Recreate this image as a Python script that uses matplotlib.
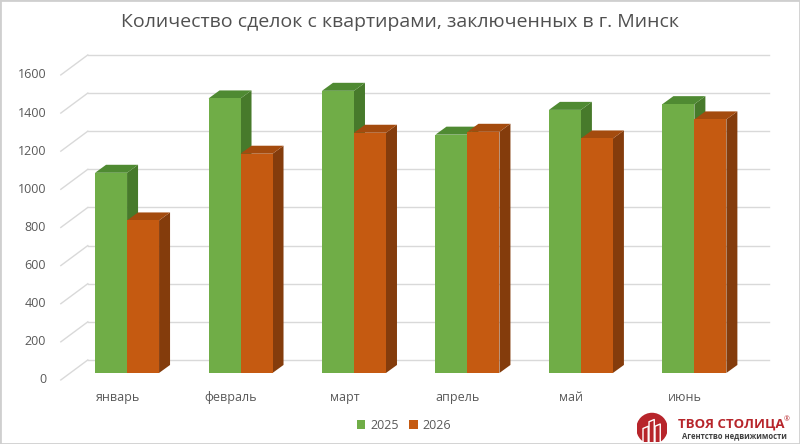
import matplotlib

matplotlib.use("Agg")
import matplotlib.pyplot as plt
from matplotlib.patches import Polygon, Rectangle, Circle
import numpy as np

plt.rcParams["font.family"] = ["Open Sans", "DejaVu Sans"]

months = ["январь", "февраль", "март", "апрель", "май", "июнь"]
deals_2025 = [1050, 1440, 1480, 1250, 1380, 1410]
deals_2026 = [800, 1150, 1260, 1265, 1230, 1330]
yticks = [0, 200, 400, 600, 800, 1000, 1200, 1400, 1600]

green = ("#70ad47", "#4f8a32", "#477a2b")   # front, top, side
orange = ("#c55a11", "#a44b0e", "#843c0c")
grid_col = "#d9d9d9"
text_col = "#595959"

fig = plt.figure(figsize=(8, 4.44), dpi=100)
ax = fig.add_axes([0.0879, 0.16, 0.851, 0.687])
ax.set_xlim(-0.5, 5.5)
ax.set_ylim(0, 1600)
ax.axis("off")

# pseudo-3d offsets expressed in data units (px / px-per-unit)
px_x = 113.5
px_y = 305 / 1600
bar_dx, bar_dy = 11 / px_x, 8 / px_y        # bar depth
wall_dx, wall_dy = 17.5 / px_x, 13 / px_y   # back wall behind bars
front_dx, front_dy = -9.5 / px_x, -7 / px_y # front edge of floor
w = 0.282

# back wall grid + floor side lines
for v in yticks:
    ax.plot([-0.5 + wall_dx, 5.5 + wall_dx], [v + wall_dy, v + wall_dy],
            color=grid_col, lw=1, zorder=1, clip_on=False)
    ax.plot([-0.5 + front_dx, -0.5 + wall_dx], [v + front_dy, v + wall_dy],
            color=grid_col, lw=1, zorder=1, clip_on=False)
    ax.text(-0.5 + front_dx - 0.13, v + front_dy, str(v), ha="right", va="center",
            fontsize=9, color=text_col)

x = np.arange(len(months))
z = 2
for i in x:
    for vals, cols, off in [(deals_2025, green, -w / 2), (deals_2026, orange, w / 2)]:
        h = vals[i]
        xl, xr = i + off - w / 2, i + off + w / 2
        side = Polygon([(xr, 0), (xr, h), (xr + bar_dx, h + bar_dy), (xr + bar_dx, bar_dy)],
                       closed=True, fc=cols[2], ec="none", zorder=z, clip_on=False)
        top = Polygon([(xl, h), (xr, h), (xr + bar_dx, h + bar_dy), (xl + bar_dx, h + bar_dy)],
                      closed=True, fc=cols[1], ec="none", zorder=z, clip_on=False)
        ax.add_patch(side)
        ax.add_patch(top)
        ax.bar(i + off, h, width=w, color=cols[0], zorder=z + 0.5, clip_on=False)
        z += 1

for i, m in enumerate(months):
    ax.text(i + front_dx, front_dy - 90, m, ha="center", va="center",
            fontsize=9, color=text_col)

fig.text(0.5, 1 - 22 / 444, "Количество сделок с квартирами, заключенных в г. Минск",
         ha="center", va="center", fontsize=14, color="#505050")

handles = [Rectangle((0, 0), 1, 1, fc=green[0]), Rectangle((0, 0), 1, 1, fc=orange[0])]
fig.legend(handles, ["2025", "2026"], loc="center", bbox_to_anchor=(0.505, 1 - 425 / 444),
           ncol=2, frameon=False, fontsize=9, labelcolor=text_col,
           handlelength=0.7, handleheight=0.7, handletextpad=0.4, columnspacing=0.8)

# logo
lax = fig.add_axes([637 / 800, 2 / 444, 30 / 800, 30 / 444])
lax.set_xlim(-1, 1)
lax.set_ylim(-1, 1)
lax.set_aspect("equal")
lax.axis("off")
lax.add_patch(Circle((0, -0.1), 1.05, fc="#b7252b", ec="none"))
for bx, bh in [(-0.6, -0.1), (-0.2, 0.35), (0.2, 0.05)]:
    lax.plot([bx, bx, bx + 0.35, bx + 0.35], [-1, bh, bh + 0.15, -1], color="white", lw=1)
fig.text(678 / 800, 1 - 424 / 444, "ТВОЯ СТОЛИЦА", ha="left", va="center",
         fontsize=9.5, fontweight="bold", color="#b7252b")
fig.text(784 / 800, 1 - 420 / 444, "®", ha="left", va="center", fontsize=5, color="#b7252b")
fig.text(682 / 800, 1 - 436 / 444, "Агентство недвижимости", ha="left", va="center",
         fontsize=5.5, fontweight="bold", color="#404040")

fig.add_artist(Rectangle((0, 0), 1, 1, transform=fig.transFigure, fill=False,
                         ec="#cfcfcf", lw=2))

fig.savefig("out.png", dpi=100)
